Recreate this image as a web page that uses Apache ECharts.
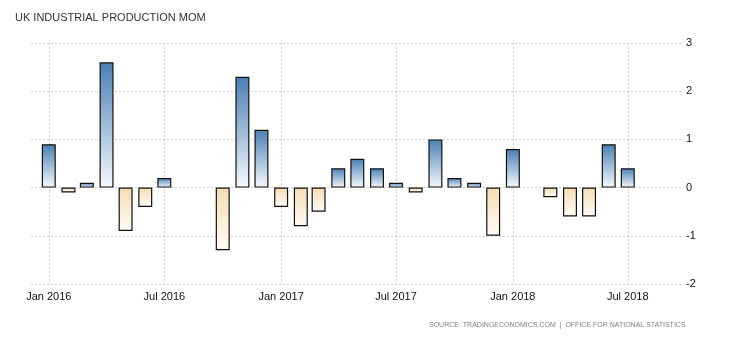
<!DOCTYPE html>
<html>
<head>
<meta charset="utf-8">
<script src="https://cdn.jsdelivr.net/npm/echarts@6/dist/echarts.min.js"></script>
<style>
  html, body { margin: 0; padding: 0; background: #fff; }
  #chart { width: 730px; height: 340px; }
</style>
</head>
<body>
<div id="chart"></div>
<script>
// Monthly change in UK industrial production (%), Jan 2016 - Jul 2018
const months = [
  '2016-01', '2016-02', '2016-03', '2016-04', '2016-05', '2016-06',
  '2016-07', '2016-08', '2016-09', '2016-10', '2016-11', '2016-12',
  '2017-01', '2017-02', '2017-03', '2017-04', '2017-05', '2017-06',
  '2017-07', '2017-08', '2017-09', '2017-10', '2017-11', '2017-12',
  '2018-01', '2018-02', '2018-03', '2018-04', '2018-05', '2018-06',
  '2018-07'
];
const values = [
  0.9, -0.1, 0.1, 2.6, -0.9, -0.4,
  0.2, null, null, -1.3, 2.3, 1.2,
  -0.4, -0.8, -0.5, 0.4, 0.6, 0.4,
  0.1, -0.1, 1.0, 0.2, 0.1, -1.0,
  0.8, null, -0.2, -0.6, -0.6, 0.9,
  0.4
];
const tickMonths = ['2016-01', '2016-07', '2017-01', '2017-07', '2018-01', '2018-07'];
const tickLabels = ['Jan 2016', 'Jul 2016', 'Jan 2017', 'Jul 2017', 'Jan 2018', 'Jul 2018'];

const toTime = m => {
  const [y, mo] = m.split('-').map(Number);
  return Date.UTC(y, mo - 1, 1);
};
const tickTimes = tickMonths.map(toTime);
const labelByTime = {};
tickTimes.forEach((t, i) => { labelByTime[t] = tickLabels[i]; });

const seriesData = months.map((m, i) => [toTime(m), values[i]]);

// Rising months fade from steel blue, falling months from wheat, both to near white
const upFill = new echarts.graphic.LinearGradient(0, 0, 0, 1, [
  { offset: 0, color: '#4a7fb4' },
  { offset: 1, color: '#f6f9fc' }
]);
const downFill = new echarts.graphic.LinearGradient(0, 0, 0, 1, [
  { offset: 0, color: '#f5ddb2' },
  { offset: 1, color: '#fefcf8' }
]);

const gridLine = { show: true, lineStyle: { color: '#cccccc', type: [2, 2], width: 1 } };

const chart = echarts.init(document.getElementById('chart'), null, { renderer: 'canvas' });
chart.setOption({
  animation: false,
  backgroundColor: '#ffffff',
  title: {
    text: 'UK INDUSTRIAL PRODUCTION MOM',
    left: 10,
    top: 7,
    textStyle: { fontFamily: 'Liberation Sans, Arial, sans-serif', fontSize: 11, fontWeight: 'normal', color: '#333' }
  },
  graphic: [{
    type: 'text',
    left: 429,
    top: 321,
    scaleX: 0.875,
    style: {
      text: 'SOURCE: TRADINGECONOMICS.COM  |  OFFICE FOR NATIONAL STATISTICS',
      font: '8px "Liberation Sans", Arial, sans-serif',
      fill: '#7a7f88'
    }
  }],
  grid: { left: 31, right: 47, top: 43, bottom: 56 },
  xAxis: {
    type: 'value',
    min: Date.UTC(2015, 11, 4),
    max: Date.UTC(2018, 8, 26),
    axisLine: { show: false },
    axisTick: {
      show: true,
      length: 4,
      customValues: tickTimes,
      lineStyle: { color: '#cccccc', type: [2, 2] }
    },
    axisLabel: {
      customValues: tickTimes,
      margin: 7,
      fontFamily: 'Liberation Sans, Arial, sans-serif',
      fontSize: 11,
      color: '#111',
      formatter: v => labelByTime[v] || ''
    },
    splitLine: gridLine
  },
  yAxis: {
    type: 'value',
    position: 'right',
    min: -2,
    max: 3,
    interval: 1,
    axisLine: { show: false },
    axisTick: { show: false },
    axisLabel: {
      margin: 3,
      align: 'left',
      fontFamily: 'Liberation Sans, Arial, sans-serif',
      fontSize: 11,
      color: '#111'
    },
    splitLine: gridLine
  },
  series: [{
    type: 'bar',
    data: seriesData,
    barWidth: 14,
    itemStyle: {
      borderColor: '#111',
      borderWidth: 1.2,
      color: p => (p.value[1] >= 0 ? upFill : downFill)
    }
  }]
});
</script>
</body>
</html>
